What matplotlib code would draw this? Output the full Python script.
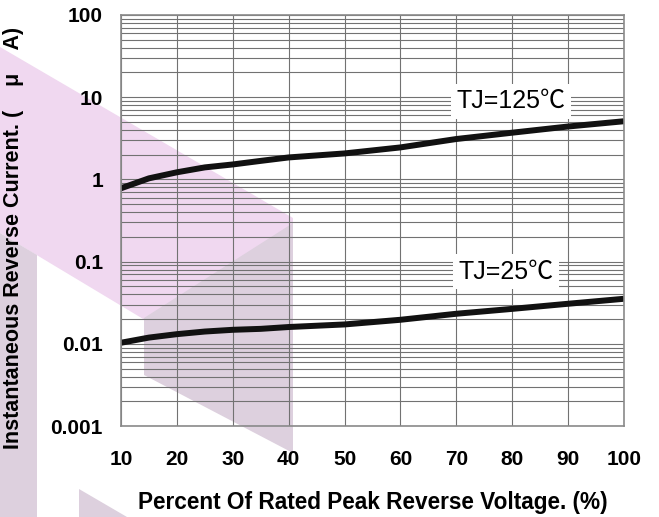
import numpy as np
import matplotlib.pyplot as plt
from matplotlib.patches import Polygon

# percent of rated peak reverse voltage
volt = [10, 15, 20, 25, 30, 35, 40, 50, 60, 70, 80, 90, 100]
# reverse current, uA
ir_125 = [0.78, 1.03, 1.22, 1.40, 1.52, 1.68, 1.85, 2.07, 2.45, 3.10, 3.70, 4.40, 5.10]
ir_25 = [0.0103, 0.0119, 0.0131, 0.0141, 0.0148, 0.0152, 0.0160, 0.0172, 0.0196, 0.0232, 0.0266, 0.0307, 0.0353]

xticks = [10, 20, 30, 40, 50, 60, 70, 80, 90, 100]
yticks = [0.001, 0.01, 0.1, 1, 10, 100]
ylabels = ['0.001', '0.01', '0.1', '1', '10', '100']

W, H = 659, 517
fig = plt.figure(figsize=(W/100, H/100), dpi=100)
ax = fig.add_axes([121/W, 1-426/H, 503/W, 411/H])
ax.patch.set_facecolor('none')

# watermark shapes behind the chart (pixel coords, top-left origin)
def px(pts):
    return [(x/W, 1-y/H) for x, y in pts]

pink = '#f0d8f0'
grey = '#ddd0de'
for pts, c in [([(0, 47), (293, 218), (293, 409), (0, 233)], pink),
               ([(144, 318), (293, 223), (293, 453), (144, 375)], grey),
               ([(0, 233), (37, 255), (37, 517), (0, 517)], grey),
               ([(79, 489), (127, 517), (79, 517)], grey)]:
    fig.patches.append(Polygon(px(pts), closed=True, transform=fig.transFigure,
                               facecolor=c, edgecolor='none', zorder=-5))

ax.set_yscale('log')
ax.set_xlim(10, 100)
ax.set_ylim(0.001, 100)

ax.plot(volt, ir_125, color='#111111', lw=4.3, solid_capstyle='butt')
ax.plot(volt, ir_25, color='#111111', lw=4.3, solid_capstyle='butt')

ax.set_xticks(xticks)
ax.set_xticklabels([str(t) for t in xticks])
ax.set_yticks(yticks)
ax.set_yticklabels(ylabels)
ax.grid(True, which='major', axis='x', color='#727272', lw=0.8)
ax.grid(True, which='both', axis='y', color='#727272', lw=0.8)
ax.tick_params(which='both', length=0)
ax.tick_params(axis='y', pad=13)
ax.tick_params(axis='x', pad=17)
for lab in ax.get_xticklabels() + ax.get_yticklabels():
    lab.set_fontfamily('Liberation Sans')
    lab.set_fontweight('bold')
    lab.set_fontsize(15)
for s in ax.spines.values():
    s.set_color('#8a8a8a')
    s.set_linewidth(1.2)

ax.set_xlabel('Percent Of Rated Peak Reverse Voltage. (%)', family='Liberation Sans',
              fontweight='bold', fontsize=16.3, labelpad=16)
ax.set_ylabel('Instantaneous Reverse Current. (    μ    A)', family='Liberation Sans',
              fontweight='bold', fontsize=15.5)
ax.yaxis.set_label_coords(-0.193, 0.457)

fam = ['Liberation Sans', 'Noto Sans CJK SC']
box = dict(facecolor='white', edgecolor='none', pad=4)
ax.text(79.8, 8.9, 'TJ=125℃', family=fam, fontsize=18, ha='center', va='center', bbox=box)
ax.text(78.9, 0.075, 'TJ=25℃', family=fam, fontsize=18, ha='center', va='center', bbox=box)

fig.savefig('out.png', dpi=100)
